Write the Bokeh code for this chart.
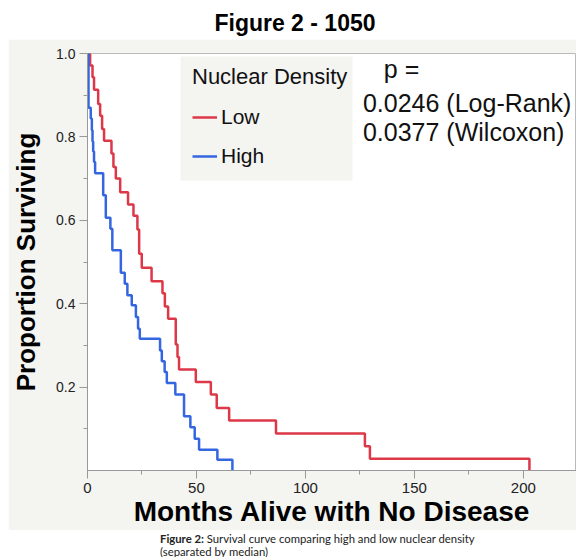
from bokeh.plotting import figure
from bokeh.models import (Range1d, FixedTicker, Legend, LegendItem, Label, Div,
                          BoxAnnotation, PrintfTickFormatter)
from bokeh.layouts import column
from bokeh.embed import file_html
from bokeh.resources import INLINE

# ---- data ----
low_months = [0, 1.2, 2.3, 3.0, 4.9, 5.8, 6.7, 7.6, 11.0, 11.9, 13.0, 15.0, 18.6, 21.1,
              22.9, 23.7, 24.9, 29.4, 34.4, 35.5, 37.0, 40.5, 41.3, 42.0, 49.7, 56.6,
              59.3, 65.0, 86.5, 127.3, 129.6, 202.8]
low_surv = [1.0, 0.971, 0.943, 0.913, 0.879, 0.851, 0.819, 0.791, 0.760, 0.728, 0.700,
            0.667, 0.638, 0.611, 0.578, 0.520, 0.486, 0.454, 0.425, 0.393, 0.364, 0.302,
            0.272, 0.242, 0.212, 0.182, 0.150, 0.120, 0.089, 0.058, 0.028, 0.0]

high_months = [0, 0.46, 1.5, 2.0, 2.3, 2.6, 3.0, 3.5, 7.2, 8.4, 10.5, 11.4, 15.3, 17.1,
               18.3, 20.3, 22.2, 23.2, 24.0, 33.3, 34.1, 35.4, 36.4, 40.3, 44.3, 47.2,
               49.2, 51.2, 59.6, 66.5]
high_surv = [1.0, 0.870, 0.844, 0.816, 0.789, 0.765, 0.740, 0.713, 0.660, 0.606, 0.580,
             0.528, 0.474, 0.448, 0.420, 0.396, 0.368, 0.340, 0.316, 0.288, 0.262, 0.236,
             0.210, 0.182, 0.130, 0.104, 0.076, 0.050, 0.026, 0.0]

x_ticks = [0, 50, 100, 150, 200]
x_minor = [25, 75, 125, 175, 225]
y_ticks = [0.2, 0.4, 0.6, 0.8, 1.0]
y_minor = [0.1, 0.3, 0.5, 0.7, 0.9]

group_labels = ["Low", "High"]
legend_title = "Nuclear Density"
p_texts = ["p =", "0.0246 (Log-Rank)", "0.0377 (Wilcoxon)"]

RED = "#dc3848"
BLUE = "#3366e0"
PANEL = "#f4f4f1"
FONT = "Liberation Sans"
W = 576

p = figure(width=W - 8, height=491, output_backend="svg", toolbar_location=None,
           x_range=Range1d(0, 224.4), y_range=Range1d(0, 1.0),
           min_border_left=79, min_border_right=0, min_border_top=14, min_border_bottom=60,
           margin=(0, 0, 0, 8))
p.border_fill_color = PANEL
p.background_fill_color = "white"
p.outline_line_color = "#bbbbbb"
p.xgrid.visible = False
p.ygrid.visible = False

# legend background box (annotation, in data units)
p.add_layout(BoxAnnotation(left=42.7, right=121.6, top=0.993, bottom=0.695,
                           fill_color=PANEL, fill_alpha=1.0, line_color=None, level="underlay"))

r_low = p.step(low_months, low_surv, mode="after", line_color=RED, line_width=2.5)
r_high = p.step(high_months, high_surv, mode="after", line_color=BLUE, line_width=2.5)

for ax in (p.xaxis[0], p.yaxis[0]):
    ax.axis_line_color = "#999999"
    ax.major_tick_line_color = "#999999"
    ax.minor_tick_line_color = "#999999"
    ax.major_tick_in = 0
    ax.major_tick_out = 8
    ax.minor_tick_in = 0
    ax.minor_tick_out = 4
    ax.major_label_text_font = FONT
    ax.major_label_text_color = "#222222"
    ax.axis_label_text_font = FONT
    ax.axis_label_text_font_style = "bold"
    ax.axis_label_text_color = "black"

p.xaxis.ticker = FixedTicker(ticks=x_ticks, minor_ticks=x_minor)
p.yaxis.ticker = FixedTicker(ticks=y_ticks, minor_ticks=y_minor)
p.yaxis.formatter = PrintfTickFormatter(format="%.1f")
p.xaxis.major_label_text_font_size = "15px"
p.yaxis.major_label_text_font_size = "14px"
p.xaxis.major_label_standoff = 4
p.yaxis.major_label_standoff = 4
p.xaxis.axis_label = "Months Alive with No Disease"
p.yaxis.axis_label = "Proportion Surviving"
p.xaxis.axis_label_text_font_size = "28px"
p.yaxis.axis_label_text_font_size = "26px"
p.xaxis.axis_label_standoff = 0
p.yaxis.axis_label_standoff = 12

legend = Legend(items=[LegendItem(label=group_labels[0], renderers=[r_low]),
                       LegendItem(label=group_labels[1], renderers=[r_high])],
                title=legend_title, location=(105, 302))
legend.title_text_font = FONT
legend.title_text_font_size = "22px"
legend.title_text_font_style = "normal"
legend.title_text_color = "#111111"
legend.label_text_font = FONT
legend.label_text_font_size = "21px"
legend.label_text_color = "#111111"
legend.glyph_width = 25
legend.glyph_height = 20
legend.label_standoff = 4
legend.label_height = 20
legend.padding = 12
legend.spacing = 15
legend.title_standoff = 15
legend.margin = 0
legend.border_line_color = None
legend.background_fill_alpha = 0.0
p.add_layout(legend)

for txt, xv, yv in zip(p_texts, [136.0, 126.4, 126.4], [0.962, 0.882, 0.812]):
    p.add_layout(Label(x=xv, y=yv, text=txt, text_font=FONT, text_font_size="25px",
                       text_baseline="middle", text_align="left", text_color="#111111"))

title_div = Div(text="Figure 2 - 1050", width=W, height=39, margin=0,
                styles={"font-family": FONT, "font-weight": "bold", "font-size": "23px",
                        "text-align": "center", "line-height": "31px", "padding-top": "8px",
                        "padding-left": "14px", "box-sizing": "border-box", "color": "black"})
caption_div = Div(text="<b>Figure 2:</b> Survival curve comparing high and low nuclear density<br>(separated by median)",
                  width=W, height=27, margin=0,
                  styles={"font-family": "Lato", "font-size": "11.3px", "line-height": "13px",
                          "padding-left": "160px", "padding-top": "2px", "box-sizing": "border-box",
                          "color": "#222222"})

layout = column(title_div, p, caption_div, spacing=0)
open("out.html", "w").write(file_html(layout, INLINE))
